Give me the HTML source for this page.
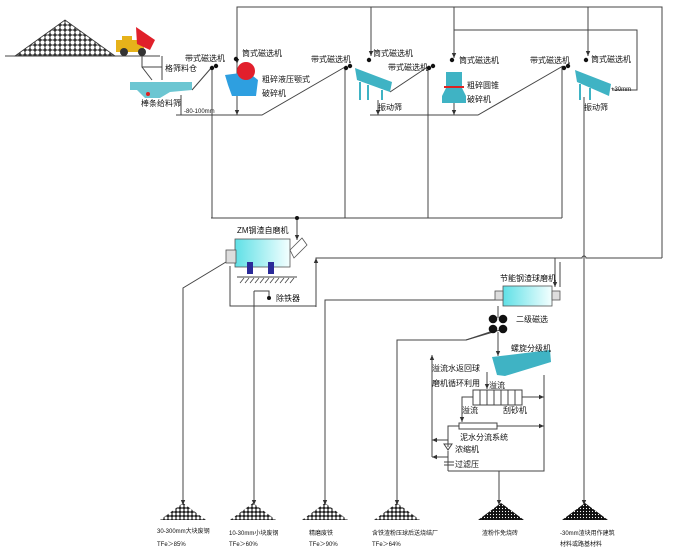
<!DOCTYPE html>
<html><head><meta charset="utf-8"><style>
html,body{margin:0;padding:0;background:#fff;}
svg{display:block;}
text{font-family:"Liberation Sans","Noto Sans CJK SC",sans-serif;font-size:8px;fill:#111;}
.s{font-size:6px;}
</style></head><body>
<svg width="673" height="548" viewBox="0 0 673 548">
<defs>
<marker id="a" markerWidth="6" markerHeight="6" refX="5" refY="3" orient="auto"><path d="M0,0.8 L5,3 L0,5.2z" fill="#333"/></marker>
<linearGradient id="g" x1="0" x2="1"><stop offset="0" stop-color="#5fe0e6"/><stop offset="1" stop-color="#f4ffff"/></linearGradient>
<pattern id="p" width="4" height="4" patternUnits="userSpaceOnUse"><rect width="4" height="4" fill="#222"/><circle cx="2" cy="2" r="1.5" fill="#fff"/></pattern>
<pattern id="o" width="5" height="5" patternUnits="userSpaceOnUse"><rect width="5" height="5" fill="#333"/><circle cx="2.5" cy="2.5" r="2.1" fill="#fff"/></pattern>
<pattern id="q" width="3" height="3" patternUnits="userSpaceOnUse"><rect width="3" height="3" fill="#111"/><circle cx="1.5" cy="1.5" r="0.6" fill="#fff"/></pattern>
</defs>
<g stroke="#444" stroke-width="1" fill="none">
<path d="M237,115 V7 H662 V258"/>
<path d="M371,7 V56" marker-end="url(#a)"/>
<path d="M454,7 V58" marker-end="url(#a)"/>
<path d="M588,7 V56" marker-end="url(#a)"/>
<path d="M237,7 V64" marker-end="url(#a)"/>
<path d="M454,30 H637 V90 H612"/>
<path d="M192,90 L212,67"/>
<path d="M176,115 H262 L345,67"/>
<path d="M370,115 H478 L563,66"/>
<path d="M390,92 L429,66"/>
<path d="M237,95 V115" marker-end="url(#a)"/>
<path d="M378,100 V115" marker-end="url(#a)"/>
<path d="M454,102 V115" marker-end="url(#a)"/>
<path d="M181,95 V115"/>
<path d="M212,67 V218 M345,67 V218 M428,67 V218 M562,66 V218 M211,218 H562"/>
<path d="M297,218 V240" marker-end="url(#a)"/>
<path d="M584,97 V505" marker-end="url(#a)"/>
<path d="M662,258 H586 a2,2 0 0 0 -4,0 H316 V307"/>
<path d="M316,300 V258" marker-end="url(#a)"/>
<path d="M555,258 V287" marker-end="url(#a)"/>
<path d="M560,262 V287"/>
<path d="M230,266 V306 H316"/>
<path d="M226,262 L183,288 V505" marker-end="url(#a)"/>
<path d="M254,291 V505" marker-end="url(#a)"/>
<path d="M254,291 H269 V298"/>
<path d="M503,300 H325 V505" marker-end="url(#a)"/>
<path d="M498,306 V318"/>
<path d="M496,330 L466,340 H397 V505" marker-end="url(#a)"/>
<path d="M500,330 L466,340"/>
<path d="M498,332 V356" marker-end="url(#a)"/>
<path d="M432,457 V355" marker-end="url(#a)"/>
<path d="M487,372 V389" marker-end="url(#a)"/>
<path d="M522,397 H544" marker-end="url(#a)"/>
<path d="M544,375 V471 H448"/>
<path d="M497,426 H544" marker-end="url(#a)"/>
<path d="M473,397 H462 V422" marker-end="url(#a)"/>
<path d="M459,426 H448 V447"/>
<path d="M448,440 H432" marker-end="url(#a)"/>
<path d="M448,457 H432" marker-end="url(#a)"/>
<path d="M448,451 V471"/>
<path d="M499,471 V505" marker-end="url(#a)"/>
<rect x="473" y="390" width="49" height="15"/>
<path d="M480,390 V405 M487,390 V405 M494,390 V405 M501,390 V405 M508,390 V405 M515,390 V405"/>
<rect x="459" y="423" width="38" height="6"/>
<path d="M444,444 H452 L448,450 Z"/>
<path d="M444,462 H454 M444,465 H454"/>
<path d="M5,56 H160"/>
<path d="M142,56 V67 H162 V56"/>
<path d="M142,67 L152,80 M162,67 V80"/>
<path d="M237,277 H297"/>
</g>
<g stroke="#444" stroke-width="0.8">
<path d="M240,283 l4,-5 M245,283 l4,-5 M250,283 l4,-5 M255,283 l4,-5 M260,283 l4,-5 M265,283 l4,-5 M270,283 l4,-5 M275,283 l4,-5 M280,283 l4,-5 M285,283 l4,-5 M290,283 l4,-5"/>
</g>
<path d="M15,56 L65,20 L115,56 Z" fill="url(#o)" stroke="#333" stroke-width="0.8"/>
<rect x="116" y="40" width="28" height="12" fill="#e6b21a"/>
<rect x="122" y="36" width="10" height="6" fill="#e6b21a"/>
<path d="M136,27 L155,40 L150,50 L137,44 Z" fill="#e0202a"/>
<circle cx="124" cy="52" r="4" fill="#333"/><circle cx="142" cy="52" r="4" fill="#333"/>
<path d="M130,82 H192 V90 L170,92 L160,98 L145,98 L137,90 H130 Z" fill="#6cc6d2"/>
<circle cx="148" cy="94" r="2" fill="#d22"/>
<path d="M225,75 L248,72 L258,80 L256,96 L232,96 L228,85 Z" fill="#2e9fe0"/>
<circle cx="246" cy="71" r="9" fill="#e21f2c"/>
<path d="M355,68 L392,82 L390,92 L357,80 Z" fill="#3fb3c4"/>
<path d="M360,82 V100 M368,85 V100 M382,90 V100" stroke="#3fb3c4" stroke-width="2"/>
<path d="M575,70 L611,84 L609,96 L577,82 Z" fill="#3fb3c4"/>
<path d="M580,84 V100 M590,88 V100" stroke="#3fb3c4" stroke-width="2"/>
<rect x="446" y="72" width="16" height="14" fill="#3fb3c4"/>
<rect x="444" y="86" width="20" height="2" fill="#d22"/>
<path d="M446,88 H462 L466,96 V103 H442 V96 Z" fill="#3fb3c4"/>
<g fill="#111">
<circle cx="212" cy="68" r="2.2"/><circle cx="216" cy="66" r="2.2"/>
<circle cx="346" cy="68" r="2.2"/><circle cx="350" cy="66" r="2.2"/>
<circle cx="429" cy="68" r="2.2"/><circle cx="433" cy="66" r="2.2"/>
<circle cx="564" cy="68" r="2.2"/><circle cx="568" cy="66" r="2.2"/>
<circle cx="236" cy="59" r="2.2"/><circle cx="369" cy="60" r="2.2"/><circle cx="452" cy="60" r="2.2"/><circle cx="586" cy="60" r="2.2"/>
<circle cx="297" cy="218" r="2"/><circle cx="269" cy="298" r="2"/>
<circle cx="493" cy="319" r="4.3"/><circle cx="503" cy="319" r="4.3"/>
<circle cx="493" cy="329" r="4.3"/><circle cx="503" cy="329" r="4.3"/>
</g>
<rect x="235" y="239" width="55" height="28" fill="url(#g)" stroke="#555" stroke-width="0.8"/>
<path d="M290,250 L302,238 L307,245 L294,258 Z" fill="#fff" stroke="#555" stroke-width="0.8"/>
<rect x="226" y="250" width="10" height="13" fill="#ddd" stroke="#555" stroke-width="0.8"/>
<rect x="247" y="262" width="6" height="12" fill="#2a2a99"/>
<rect x="268" y="262" width="6" height="12" fill="#2a2a99"/>
<rect x="503" y="286" width="49" height="20" fill="url(#g)" stroke="#555" stroke-width="0.8"/>
<rect x="495" y="291" width="8" height="9" fill="#ddd" stroke="#555" stroke-width="0.8"/>
<rect x="552" y="291" width="8" height="9" fill="#ddd" stroke="#555" stroke-width="0.8"/>
<path d="M492,357 L550,350 L551,362 L505,376 L497,375 Z" fill="#3fb3c4"/>
<path d="M160,520 L183,503 L206,520 Z" fill="url(#p)"/>
<path d="M230,520 L253,503 L276,520 Z" fill="url(#p)"/>
<path d="M302,520 L325,503 L348,520 Z" fill="url(#p)"/>
<path d="M374,520 L397,503 L420,520 Z" fill="url(#p)"/>
<path d="M478,520 L501,503 L524,520 Z" fill="url(#q)"/>
<path d="M562,520 L585,503 L608,520 Z" fill="url(#q)"/>
<text x="165" y="71">格筛料仓</text>
<text x="185" y="61">带式磁选机</text>
<text x="242" y="56">筒式磁选机</text>
<text x="262" y="82">粗碎液压颚式</text>
<text x="262" y="96">破碎机</text>
<text x="141" y="106">棒条给料筛</text>
<text x="184" y="113" class="s">-80-100mm</text>
<text x="311" y="62">带式磁选机</text>
<text x="373" y="56">筒式磁选机</text>
<text x="388" y="70">带式磁选机</text>
<text x="459" y="63">筒式磁选机</text>
<text x="467" y="88">粗碎圆锥</text>
<text x="467" y="102">破碎机</text>
<text x="378" y="110">振动筛</text>
<text x="530" y="63">带式磁选机</text>
<text x="591" y="62">筒式磁选机</text>
<text x="611" y="91" class="s">+30mm</text>
<text x="584" y="110">振动筛</text>
<text x="237" y="233">ZM钢渣自磨机</text>
<text x="276" y="301">除铁器</text>
<text x="500" y="281">节能钢渣球磨机</text>
<text x="516" y="322">二级磁选</text>
<text x="511" y="351">螺旋分级机</text>
<text x="432" y="371">溢流水返回球</text>
<text x="432" y="386">磨机循环利用</text>
<text x="489" y="388">溢流</text>
<text x="503" y="413">刮砂机</text>
<text x="462" y="413">溢流</text>
<text x="460" y="440">泥水分流系统</text>
<text x="455" y="452">浓缩机</text>
<text x="455" y="467">过滤压</text>
<text x="157" y="533" class="s">30-300mm大块废钢</text>
<text x="157" y="546" class="s">TFe＞85%</text>
<text x="229" y="535" class="s">10-30mm小块废钢</text>
<text x="229" y="546" class="s">TFe＞60%</text>
<text x="309" y="535" class="s">精磨废铁</text>
<text x="309" y="546" class="s">TFe＞90%</text>
<text x="372" y="535" class="s">含铁渣粉压球后送烧结厂</text>
<text x="372" y="546" class="s">TFe＞64%</text>
<text x="482" y="535" class="s">渣粉作免烧砖</text>
<text x="560" y="535" class="s">-30mm渣块用作建筑</text>
<text x="560" y="546" class="s">材料或路基材料</text>
</svg>
</body></html>
